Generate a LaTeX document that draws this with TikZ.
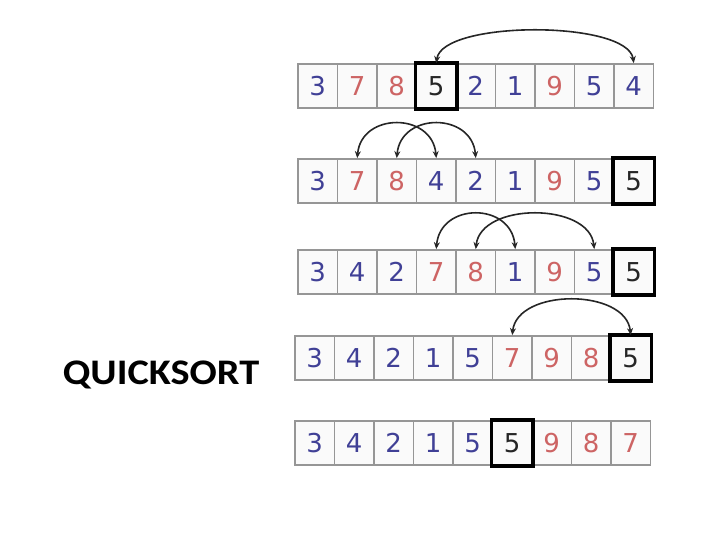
\documentclass[tikz,border=0pt]{standalone}
\usepackage{fontspec}
\setmainfont{Carlito}
\newfontfamily\digitfont{DejaVu Sans}
\usepackage{xcolor}
\definecolor{qblue}{RGB}{64,64,150}
\definecolor{qred}{RGB}{205,100,100}
\definecolor{qgray}{RGB}{150,150,150}
\usetikzlibrary{arrows.meta}

\begin{document}
\begin{tikzpicture}[
  x=1pt, y=-1pt,
  cell/.style={rectangle, draw=qgray, line width=1.8pt, fill=black!2,
               minimum width=39.5pt, minimum height=44pt, inner sep=0pt,
               font=\digitfont\fontsize{26}{26}\selectfont},
  bl/.style={text=qblue},
  rd/.style={text=qred},
  pv/.style={text=black!85},
  pivot/.style={draw=black, line width=3.5pt},
  swaparc/.style={{Stealth[length=7pt,width=6pt]}-{Stealth[length=7pt,width=6pt]},
                  line width=1.6pt, draw=black!85},
]
\useasboundingbox (0,0) rectangle (720,540);

%% --- titre ---
\node[font=\bfseries\fontsize{36}{36}\selectfont] (title) at (161,375)
  {\scalebox{1.12}[1]{QUICKSORT}};

%% --- ligne 1 ---
\foreach \d/\s [count=\i] in {3/bl,7/rd,8/rd,5/pv,2/bl,1/bl,9/rd,5/bl,4/bl}
  \node[cell,\s] (c1\i) at ({298+(\i-0.5)*39.5}, 86) {\d};
\draw[pivot] (c14.north west) rectangle (c14.south east);
\draw[swaparc] (c14.north) .. controls +(6,-43) and +(-6,-43) .. (c19.north);

%% --- ligne 2 ---
\foreach \d/\s [count=\i] in {3/bl,7/rd,8/rd,4/bl,2/bl,1/bl,9/rd,5/bl,5/pv}
  \node[cell,\s] (c2\i) at ({298+(\i-0.5)*39.5}, 181) {\d};
\draw[pivot] (c29.north west) rectangle (c29.south east);
\draw[swaparc] (c22.north) .. controls +(4,-46) and +(-4,-46) .. (c24.north);
\draw[swaparc] (c23.north) .. controls +(4,-46) and +(-4,-46) .. (c25.north);

%% --- ligne 3 ---
\foreach \d/\s [count=\i] in {3/bl,4/bl,2/bl,7/rd,8/rd,1/bl,9/rd,5/bl,5/pv}
  \node[cell,\s] (c3\i) at ({298+(\i-0.5)*39.5}, 272) {\d};
\draw[pivot] (c39.north west) rectangle (c39.south east);
\draw[swaparc] (c34.north) .. controls +(4,-47) and +(-4,-47) .. (c36.north);
\draw[swaparc] (c35.north) .. controls +(5,-47) and +(-5,-47) .. (c38.north);

%% --- ligne 4 ---
\foreach \d/\s [count=\i] in {3/bl,4/bl,2/bl,1/bl,5/bl,7/rd,9/rd,8/rd,5/pv}
  \node[cell,\s] (c4\i) at ({295+(\i-0.5)*39.5}, 358) {\d};
\draw[pivot] (c49.north west) rectangle (c49.south east);
\draw[swaparc] (c46.north) .. controls +(5,-47) and +(-5,-47) .. (c49.north);

%% --- ligne 5 ---
\foreach \d/\s [count=\i] in {3/bl,4/bl,2/bl,1/bl,5/bl,5/pv,9/rd,8/rd,7/rd}
  \node[cell,\s] (c5\i) at ({295+(\i-0.5)*39.5}, 443) {\d};
\draw[pivot] (c56.north west) rectangle (c56.south east);
\end{tikzpicture}
\end{document}
